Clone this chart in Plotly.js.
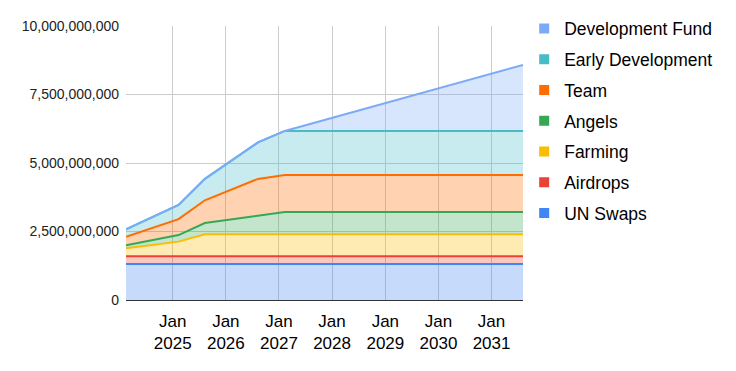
<!DOCTYPE html>
<html>
<head>
<meta charset="utf-8">
<script src="https://cdn.plot.ly/plotly-3.0.1.min.js"></script>
<style>html,body{margin:0;padding:0;background:#fff;}#chart{width:736px;height:371px;}</style>
</head>
<body>
<div id="chart"></div>
<script>
// Dates of the data points
var dates = ['2024-02-15', '2025-02-10', '2025-08-10', '2026-08-10', '2027-02-10', '2031-08-05'];

// Series values (tokens)
var unSwaps      = [1.31e9, 1.31e9, 1.31e9, 1.31e9, 1.31e9, 1.31e9];
var airdrops     = [0.29e9, 0.29e9, 0.29e9, 0.29e9, 0.29e9, 0.29e9];
var farming      = [0.29e9, 0.53e9, 0.80e9, 0.80e9, 0.80e9, 0.80e9];
var angels       = [0.11e9, 0.24e9, 0.41e9, 0.67e9, 0.81e9, 0.81e9];
var team         = [0.31e9, 0.58e9, 0.83e9, 1.35e9, 1.35e9, 1.35e9];
var earlyDev     = [0.27e9, 0.52e9, 0.78e9, 1.33e9, 1.61e9, 1.61e9];
var devFund      = [0, 0, 0, 0, 0, 2.41e9];

var seriesNames  = ['UN Swaps', 'Airdrops', 'Farming', 'Angels', 'Team', 'Early Development', 'Development Fund'];
var seriesValues = [unSwaps, airdrops, farming, angels, team, earlyDev, devFund];
var seriesColors = ['#4285F4', '#EA4335', '#FBBC04', '#34A853', '#FF6D01', '#46BDC6', '#7BAAF7'];
var seriesFills  = ['rgba(66,133,244,0.3)', 'rgba(234,67,53,0.3)', 'rgba(251,188,4,0.3)', 'rgba(52,168,83,0.3)',
                    'rgba(255,109,1,0.3)', 'rgba(70,189,198,0.3)', 'rgba(123,170,247,0.3)'];

// Axis ticks
var xTickVals = ['2025-01-01', '2026-01-01', '2027-01-01', '2028-01-01', '2029-01-01', '2030-01-01', '2031-01-01'];
var xTickText = ['Jan<br>2025', 'Jan<br>2026', 'Jan<br>2027', 'Jan<br>2028', 'Jan<br>2029', 'Jan<br>2030', 'Jan<br>2031'];
var yTickVals = [0, 2.5e9, 5e9, 7.5e9, 1e10];
var yTickText = ['0', '2,500,000,000', '5,000,000,000', '7,500,000,000', '10,000,000,000'];

var FONT = '"Liberation Sans", Arial, sans-serif';
var traces = [];
for (var i = 0; i < seriesNames.length; i++) {
  traces.push({
    type: 'scatter', mode: 'lines', x: dates, y: seriesValues[i],
    name: seriesNames[i], stackgroup: 'one',
    line: {color: seriesColors[i], width: 2, shape: 'linear'},
    fillcolor: seriesFills[i], showlegend: false, hoverinfo: 'skip'
  });
}
// legend entries, top of the stack first
for (var j = seriesNames.length - 1; j >= 0; j--) {
  traces.push({
    type: 'scatter', mode: 'markers', x: [null], y: [null],
    name: seriesNames[j], legendgroup: 'g' + j,
    marker: {symbol: 'square', size: 10, color: seriesColors[j]},
    showlegend: true, hoverinfo: 'skip'
  });
}

var layout = {
  width: 736, height: 371,
  margin: {l: 126, r: 213, t: 26, b: 71, pad: 0, autoexpand: false},
  paper_bgcolor: '#ffffff', plot_bgcolor: '#ffffff',
  font: {family: FONT, color: '#222222'},
  showlegend: true,
  legend: {
    x: 1.003, xanchor: 'left', y: 1.056, yanchor: 'top', maxheight: 330,
    traceorder: 'grouped', tracegroupgap: 5,
    font: {family: FONT, size: 17.5, color: '#000000'},
    bgcolor: 'rgba(0,0,0,0)', borderwidth: 0
  },
  xaxis: {
    type: 'date', range: [dates[0], dates[dates.length - 1]],
    tickmode: 'array', tickvals: xTickVals, ticktext: xTickText,
    showgrid: true, gridcolor: '#cccccc', gridwidth: 1,
    zeroline: false, showline: false, ticks: '', ticklabelstandoff: 9,
    tickfont: {family: FONT, size: 17, color: '#000000'}
  },
  yaxis: {
    range: [0, 1e10], tickmode: 'array', tickvals: yTickVals, ticktext: yTickText,
    showgrid: true, gridcolor: '#cccccc', gridwidth: 1,
    zeroline: true, zerolinecolor: '#333333', zerolinewidth: 1,
    showline: false, ticks: '', ticklabelstandoff: 6,
    tickfont: {family: FONT, size: 14, color: '#222222'}
  },
  hovermode: false
};

Plotly.newPlot('chart', traces, layout, {displayModeBar: false, staticPlot: true});
</script>
</body>
</html>
